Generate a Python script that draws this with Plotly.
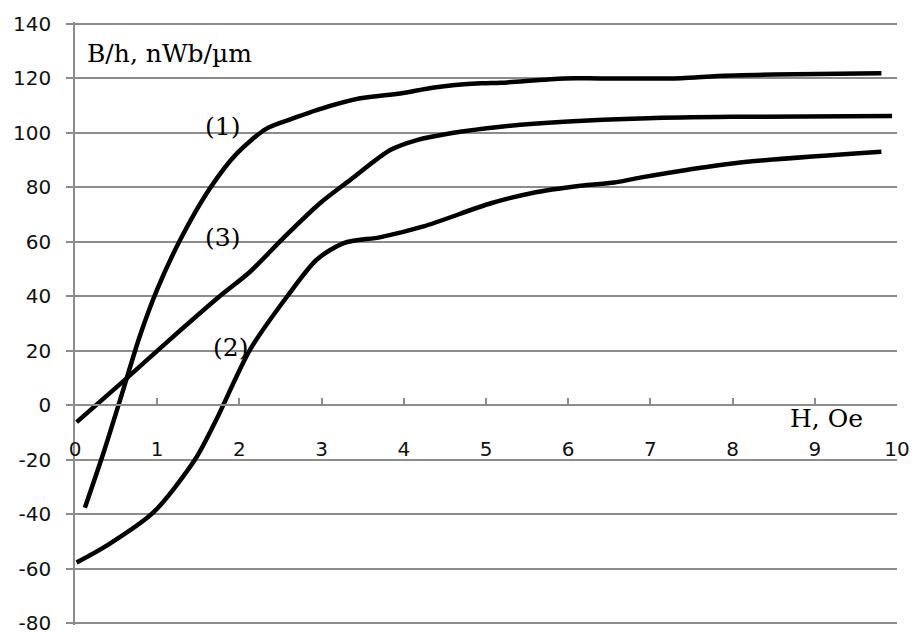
import plotly.graph_objects as go

# Magnetization curves: B/h versus applied field H
h_curve1 = [0.12, 0.36, 0.55, 0.79, 1.0, 1.28, 1.64, 1.97, 2.33, 2.66, 2.94,
            3.47, 3.96, 4.37, 4.94, 5.18, 5.95, 6.4, 7.37, 7.82, 8.5, 9.81]
b_curve1 = [-37.6, -16.2, 2.1, 25.5, 42.5, 60.7, 79.5, 92.4, 101.5, 105.3, 108.3,
            112.6, 114.4, 116.6, 118.1, 118.3, 119.9, 119.9, 120.0, 120.8, 121.3, 121.8]

h_curve2 = [0.02, 0.38, 0.95, 1.46, 1.72, 2.13, 2.58, 2.94, 3.27, 3.72, 4.24,
            5.06, 5.55, 6.15, 6.56, 6.89, 8.02, 9.81]
b_curve2 = [-57.7, -51.6, -39.4, -19.9, -5.2, 20.4, 39.9, 53.4, 59.5, 61.7, 65.6,
            74.1, 77.8, 80.5, 81.7, 83.6, 88.8, 93.0]

h_curve3 = [0.02, 0.61, 1.15, 1.76, 2.13, 2.54, 2.98, 3.35, 3.84,
            4.16, 4.57, 5.18, 5.95, 6.97, 7.98, 9.94]
b_curve3 = [-6.2, 9.4, 24.0, 40.0, 49.0, 61.5, 74.1, 82.7, 93.7,
            97.3, 99.8, 102.2, 104.0, 105.3, 105.8, 106.1]

x_tick_vals = [0, 1, 2, 3, 4, 5, 6, 7, 8, 9, 10]
x_tick_text = ["0", "1", "2", "3", "4", "5", "6", "7", "8", "9", "10"]
y_tick_vals = [-80, -60, -40, -20, 0, 20, 40, 60, 80, 100, 120, 140]
y_tick_text = ["-80", "-60", "-40", "-20", "0", "20", "40", "60", "80", "100", "120", "140"]

# a little padding keeps the gridlines at -80 and 140 from being clipped
X_RANGE = [0, 10]
Y_RANGE = [-80.6, 140.6]

GRID = "#8c8c8c"
SERIF = "DejaVu Serif"
SANS = "DejaVu Sans"

fig = go.Figure()
for hx, by in [(h_curve1, b_curve1), (h_curve2, b_curve2), (h_curve3, b_curve3)]:
    fig.add_trace(go.Scatter(
        x=hx, y=by, mode="lines",
        line=dict(color="black", width=4.5, shape="spline", smoothing=0.8),
        showlegend=False, hoverinfo="skip",
    ))

# Curve labels and axis titles drawn inside the plot
labels = [
    ("B/h, nWb/µm", 0.12, 129.0, "left"),
    ("(1)", 1.79, 102.2, "center"),
    ("(3)", 1.79, 61.5, "center"),
    ("(2)", 1.89, 21.2, "center"),
    ("H, Oe", 8.67, -5.0, "left"),
]
for text, lx, ly, anchor in labels:
    fig.add_annotation(
        x=lx, y=ly, xref="x", yref="y", text=text, showarrow=False,
        xanchor=anchor, yanchor="middle",
        font=dict(family=SERIF, size=25, color="black"),
    )

# x axis crosses the y axis at B/h = 0
zero_pos = (0 - Y_RANGE[0]) / (Y_RANGE[1] - Y_RANGE[0])

fig.update_layout(
    width=912, height=632,
    margin=dict(l=75, r=15, t=22, b=7),
    paper_bgcolor="white", plot_bgcolor="white",
    xaxis=dict(
        range=X_RANGE, tickvals=x_tick_vals, ticktext=x_tick_text,
        showgrid=False, zeroline=False, automargin=False,
        showline=True, linecolor=GRID, linewidth=1.5,
        ticks="inside", ticklen=7, tickcolor=GRID, tickwidth=1.5,
        anchor="free", position=zero_pos,
        ticklabelstandoff=26, ticklabeloverflow="allow",
        tickfont=dict(family=SANS, size=20, color="#111"),
    ),
    yaxis=dict(
        range=Y_RANGE, tickvals=y_tick_vals, ticktext=y_tick_text,
        showgrid=True, gridcolor=GRID, gridwidth=1.5, zeroline=False,
        automargin=False,
        showline=True, linecolor=GRID, linewidth=1.5,
        ticks="outside", ticklen=7, tickcolor=GRID, tickwidth=1.5,
        ticklabelstandoff=11, ticklabeloverflow="allow",
        tickfont=dict(family=SANS, size=20, color="#111"),
    ),
)

fig.write_html("out.html")
